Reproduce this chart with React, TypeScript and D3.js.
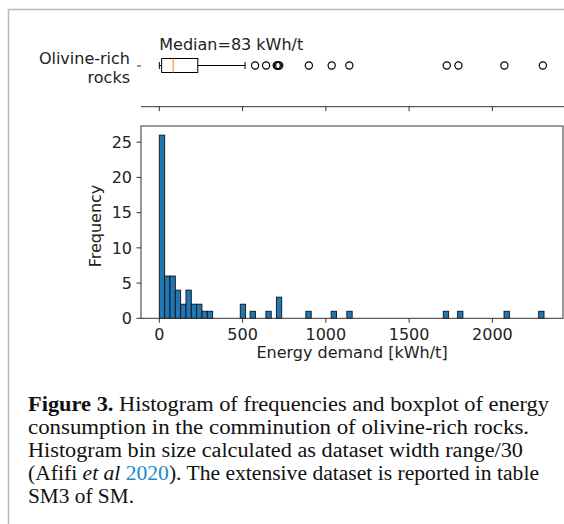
import React from "react";
import * as d3 from "d3";

// Histogram bins (lower edge in kWh/t) and counts
const binStarts = [0, 32, 64, 96, 128, 160, 192, 224, 256, 288, 486, 545, 640, 703, 880, 1032, 1126, 1705, 1791, 2070, 2278];
const binCounts = [26, 6, 6, 4, 2, 4, 2, 2, 1, 1, 2, 1, 1, 3, 1, 1, 1, 1, 1, 1, 1];
const binWidth = 32;

// Boxplot statistics
const boxCategory = ["Olivine-rich", "rocks"];
const whiskerLow = 0;
const q1 = 14;
const median = 83;
const q3 = 231;
const whiskerHigh = 515;
const outliers = [575, 641, 705, 712, 720, 898, 1035, 1141, 1726, 1796, 2072, 2303];

const xTicks = [0, 500, 1000, 1500, 2000];
const yTicks = [0, 5, 10, 15, 20, 25];

const FONT = "DejaVu Sans, sans-serif";
const SERIF = "Liberation Serif, Times New Roman, serif";

export default function App() {
  const W = 564, H = 524;
  const left = 141, right = 563;
  const x = d3.scaleLinear().domain([-110, 2424]).range([left, right]);
  const histTop = 126, histBottom = 318.3;
  const y = d3.scaleLinear().domain([0, 27.3]).range([histBottom, histTop]);
  const boxY = 65.5, boxH = 14;
  const topAxisY = 106.7;
  const txt = "#222";
  const fs = 16;

  return (
    <svg width={W} height={H} style={{ position: "absolute", left: 0, top: 0, background: "#fff" }}>
      <rect x={0} y={0} width={W} height={H} fill="#fff" />
      {/* frame */}
      <line x1={8.5} y1={9.5} x2={W} y2={9.5} stroke="#b8b8b8" strokeWidth={1.5} />
      <line x1={8.5} y1={9.5} x2={8.5} y2={H} stroke="#b8b8b8" strokeWidth={1.5} />

      {/* Boxplot panel */}
      <text x={159.3} y={50} fontFamily={FONT} fontSize={fs} fill={txt}>Median=83 kWh/t</text>
      <text x={130} y={64} fontFamily={FONT} fontSize={fs} fill={txt} textAnchor="end">{boxCategory[0]}</text>
      <text x={130} y={83} fontFamily={FONT} fontSize={fs} fill={txt} textAnchor="end">{boxCategory[1]}</text>
      <line x1={137} y1={boxY + 0.5} x2={141} y2={boxY + 0.5} stroke="#333" strokeWidth={1} />
      {/* whiskers */}
      <line x1={x(whiskerLow)} y1={boxY} x2={x(q1)} y2={boxY} stroke="#000" strokeWidth={1} />
      <line x1={x(q3)} y1={boxY} x2={x(whiskerHigh)} y2={boxY} stroke="#000" strokeWidth={1} />
      <line x1={x(whiskerLow)} y1={boxY - 3.5} x2={x(whiskerLow)} y2={boxY + 3.5} stroke="#000" strokeWidth={1} />
      <line x1={x(whiskerHigh)} y1={boxY - 3.5} x2={x(whiskerHigh)} y2={boxY + 3.5} stroke="#000" strokeWidth={1} />
      <rect x={x(q1)} y={boxY - boxH / 2} width={x(q3) - x(q1)} height={boxH} fill="none" stroke="#000" strokeWidth={1} />
      <line x1={x(median)} y1={boxY - boxH / 2} x2={x(median)} y2={boxY + boxH / 2} stroke="#ff7f0e" strokeWidth={1} />
      {outliers.map((v, i) => (
        <circle key={i} cx={x(v)} cy={boxY} r={3.6} fill="none" stroke="#000" strokeWidth={1.2} />
      ))}
      {/* top axis bottom spine with ticks */}
      <line x1={left} y1={topAxisY} x2={W} y2={topAxisY} stroke="#333" strokeWidth={1} />
      {xTicks.map((t) => (
        <line key={t} x1={x(t)} y1={topAxisY} x2={x(t)} y2={topAxisY + 4.5} stroke="#333" strokeWidth={1} />
      ))}

      {/* Histogram */}
      {binStarts.map((s, i) => (
        <rect
          key={i}
          x={x(s)}
          y={y(binCounts[i])}
          width={x(s + binWidth) - x(s)}
          height={y(0) - y(binCounts[i])}
          fill="#1f77b4"
          stroke="#111"
          strokeWidth={0.9}
        />
      ))}
      <rect x={left} y={histTop} width={right - left} height={histBottom - histTop} fill="none" stroke="#333" strokeWidth={1} />
      {xTicks.map((t) => (
        <g key={t}>
          <line x1={x(t)} y1={histBottom} x2={x(t)} y2={histBottom + 4.5} stroke="#333" strokeWidth={1} />
          <text x={x(t)} y={340} fontFamily={FONT} fontSize={fs} fill={txt} textAnchor="middle">{t}</text>
        </g>
      ))}
      {yTicks.map((t) => (
        <g key={t}>
          <line x1={left - 4.5} y1={y(t)} x2={left} y2={y(t)} stroke="#333" strokeWidth={1} />
          <text x={132} y={y(t) + 5.8} fontFamily={FONT} fontSize={fs} fill={txt} textAnchor="end">{t}</text>
        </g>
      ))}
      <text x={352} y={358} fontFamily={FONT} fontSize={fs} fill={txt} textAnchor="middle">Energy demand [kWh/t]</text>
      <text transform={`translate(101,226) rotate(-90)`} fontFamily={FONT} fontSize={fs} fill={txt} textAnchor="middle">Frequency</text>

      {/* Caption */}
      <g fontFamily={SERIF} fontSize={20} fill="#111">
        <text x={28} y={411} textLength={521} lengthAdjust="spacingAndGlyphs">
          <tspan fontWeight="bold">Figure 3.</tspan> Histogram of frequencies and boxplot of energy
        </text>
        <text x={28} y={434} textLength={501} lengthAdjust="spacingAndGlyphs">consumption in the comminution of olivine-rich rocks.</text>
        <text x={28} y={457} textLength={495} lengthAdjust="spacingAndGlyphs">Histogram bin size calculated as dataset width range/30</text>
        <text x={28} y={480} textLength={511} lengthAdjust="spacingAndGlyphs">
          (Afifi <tspan fontStyle="italic">et al</tspan> <tspan fill="#1a8ac6">2020</tspan>). The extensive dataset is reported in table
        </text>
        <text x={28} y={503} textLength={106} lengthAdjust="spacingAndGlyphs">SM3 of SM.</text>
      </g>
    </svg>
  );
}
